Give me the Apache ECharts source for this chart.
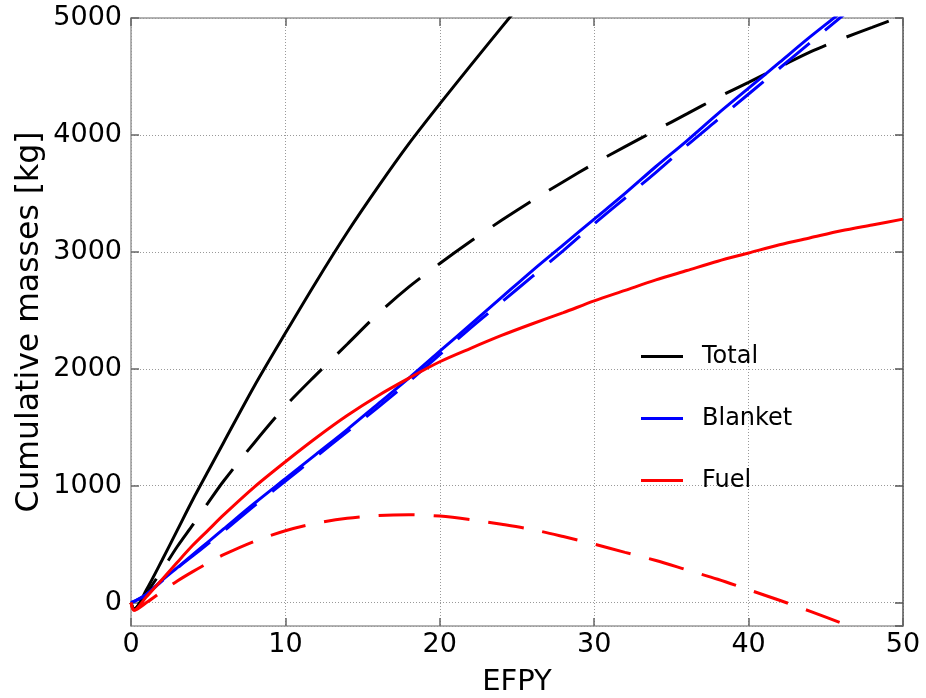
<!DOCTYPE html>
<html>
<head>
<meta charset="utf-8">
<script src="https://cdn.jsdelivr.net/npm/echarts@6/dist/echarts.min.js"></script>
<style>
html,body{margin:0;padding:0;background:#fff;}
#chart{width:926px;height:698px;}
</style>
</head>
<body>
<div id="chart"></div>
<script>
// EFPY sample positions
const efpy = [0, 0.2, 1, 2, 3, 4, 5, 6, 8, 10, 12, 14, 16, 18, 20, 22, 24, 26, 28, 30, 32, 34, 36, 38, 40, 42, 44, 46, 48, 50];

const totalSolid   = [0, -55, 110, 360, 620, 880, 1125, 1370, 1855, 2305, 2745, 3165, 3555, 3925, 4265, 4595, 4920, 5240, null, null, null, null, null, null, null, null, null, null, null, null];
const totalDashed  = [0, -55, 80, 275, 480, 665, 855, 1040, 1370, 1680, 1950, 2210, 2470, 2700, 2900, 3090, 3270, 3440, 3600, 3755, 3900, 4040, 4180, 4320, 4450, 4580, 4710, 4820, 4920, 5020];
const blanketSolid = [0, 10, 70, 190, 300, 410, 520, 630, 850, 1060, 1270, 1480, 1700, 1920, 2150, 2380, 2610, 2840, 3060, 3280, 3500, 3730, 3950, 4180, 4400, 4620, 4840, 5050, 5270, null];
const blanketDashed= [0, 10, 70, 185, 295, 400, 505, 610, 830, 1040, 1250, 1460, 1670, 1890, 2120, 2350, 2570, 2790, 3010, 3240, 3460, 3680, 3910, 4130, 4350, 4570, 4790, 5010, 5230, null];
const fuelSolid    = [0, -65, 50, 195, 345, 490, 620, 750, 990, 1205, 1410, 1600, 1770, 1920, 2060, 2175, 2285, 2385, 2480, 2580, 2670, 2760, 2840, 2920, 2990, 3060, 3120, 3180, 3230, 3280];
const fuelDashed   = [0, -65, 0, 95, 185, 265, 340, 410, 525, 615, 680, 722, 745, 752, 740, 710, 670, 625, 565, 500, 430, 360, 280, 200, 110, 20, -75, -175, -275, -380];

const legendNames = ['Total', 'Blanket', 'Fuel'];
const xTickInterval = 10;
const yMin = -200, yMax = 5000;

const pairs = ys => efpy.map((x, i) => [x, ys[i]]);
const FONT = 'DejaVu Sans';

function line(name, ys, color, dash) {
  return {
    name: name,
    type: 'line',
    data: pairs(ys),
    showSymbol: false,
    symbol: 'none',
    smooth: 0.3,
    clip: true,
    connectNulls: false,
    lineStyle: { color: color, width: 3, type: dash || 'solid', cap: 'butt' },
    itemStyle: { color: color },
    emphasis: { disabled: true }
  };
}

const chart = echarts.init(document.getElementById('chart'), null, { renderer: 'canvas' });
chart.setOption({
  animation: false,
  backgroundColor: '#fff',
  textStyle: { fontFamily: FONT },
  grid: { left: 131, right: 23, top: 18, bottom: 72, containLabel: false, outerBoundsMode: 'none' },
  legend: {
    data: legendNames.map(n => ({ name: n, icon: 'rect' })),
    orient: 'vertical',
    left: 636,
    top: 339,
    itemWidth: 42,
    itemHeight: 3,
    itemGap: 37,
    selectedMode: false,
    textStyle: { fontFamily: FONT, fontSize: 24, color: '#000', padding: [0, 0, 0, 14], lineHeight: 25 }
  },
  xAxis: [{
    type: 'value', min: 0, max: 50, interval: xTickInterval,
    name: 'EFPY', nameLocation: 'middle', nameGap: 42, nameMoveOverlap: false,
    nameTextStyle: { fontFamily: FONT, fontSize: 29, color: '#000' },
    axisLine: { show: true, onZero: false, lineStyle: { color: '#999', width: 1.5 } },
    axisTick: { show: true, inside: true, length: 8, lineStyle: { color: '#666', width: 1.5 } },
    axisLabel: { fontFamily: FONT, fontSize: 27, color: '#000', margin: 5 },
    splitLine: { show: true, lineStyle: { color: '#999', width: 1, type: [1, 2] } }
  }, {
    type: 'value', min: 0, max: 50, interval: xTickInterval, position: 'top',
    axisLine: { show: true, onZero: false, lineStyle: { color: '#999', width: 1.5 } },
    axisTick: { show: true, inside: true, length: 8, lineStyle: { color: '#666', width: 1.5 } },
    axisLabel: { show: false },
    splitLine: { show: false }
  }],
  yAxis: [{
    type: 'value', min: yMin, max: yMax,
    name: 'Cumulative masses [kg]', nameLocation: 'middle', nameGap: 85, nameMoveOverlap: false,
    nameTextStyle: { fontFamily: FONT, fontSize: 31.5, color: '#000' },
    axisLine: { show: true, onZero: false, lineStyle: { color: '#999', width: 1.5 } },
    axisTick: { show: true, inside: true, length: 8, lineStyle: { color: '#666', width: 1.5 } },
    axisLabel: { fontFamily: FONT, fontSize: 27, color: '#000', margin: 9, showMinLabel: false,
      formatter: v => String(v) },
    splitLine: { show: true, lineStyle: { color: '#999', width: 1, type: [1, 2] } }
  }, {
    type: 'value', min: yMin, max: yMax, position: 'right',
    axisLine: { show: true, onZero: false, lineStyle: { color: '#555', width: 1.5 } },
    axisTick: { show: true, inside: true, length: 8, lineStyle: { color: '#555', width: 1.5 } },
    axisLabel: { show: false },
    splitLine: { show: false }
  }],
  series: [
    line('Total', totalSolid, '#000000'),
    line('Total (dashed)', totalDashed, '#000000', [45, 22]),
    line('Blanket', blanketSolid, '#0000ff'),
    line('Blanket (dashed)', blanketDashed, '#0000ff', [40, 20]),
    line('Fuel', fuelSolid, '#ff0000'),
    line('Fuel (dashed)', fuelDashed, '#ff0000', [36, 19])
  ]
});
</script>
</body>
</html>
